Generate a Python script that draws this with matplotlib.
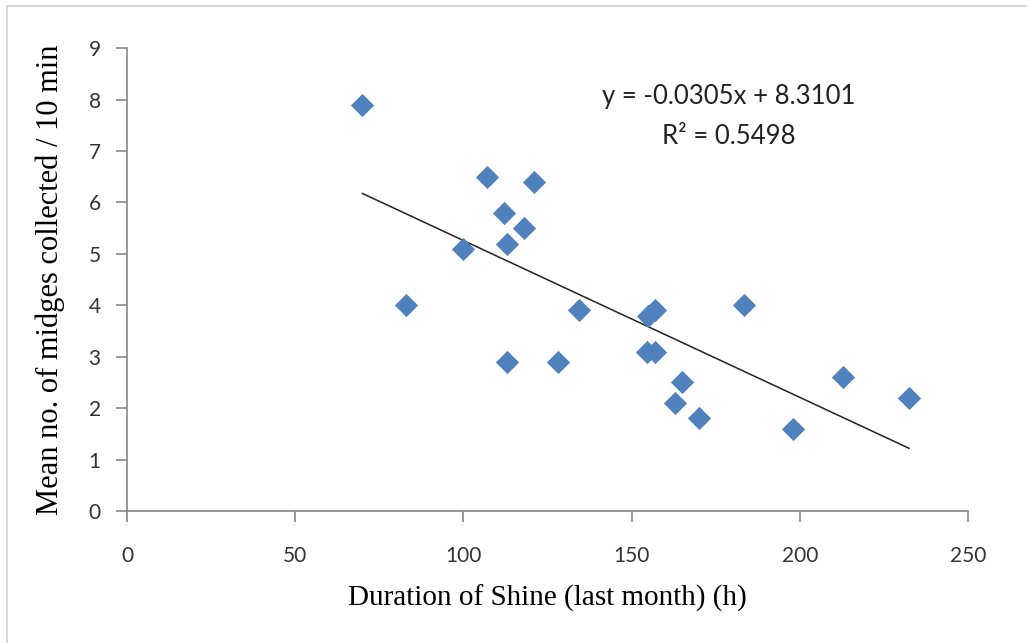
import numpy as np
import matplotlib
matplotlib.use("Agg")
import matplotlib.pyplot as plt
from matplotlib.patches import Rectangle

# duration of shine (h) and mean midges per 10 min
shine = [70, 83, 100, 107, 112, 113, 113, 118, 121, 128, 134.5,
         155, 157, 154.5, 157, 165, 163, 170, 183.5, 198, 213, 232.5]
midges = [7.9, 4.0, 5.1, 6.5, 5.8, 5.2, 2.9, 5.5, 6.4, 2.9, 3.9,
          3.8, 3.9, 3.1, 3.1, 2.5, 2.1, 1.8, 4.0, 1.6, 2.6, 2.2]

slope = -0.0305
intercept = 8.3101
r2 = 0.5498

xticks = [0, 50, 100, 150, 200, 250]
yticks = list(range(0, 10))

fig = plt.figure(figsize=(10.27, 6.43), dpi=100)
# outer chart frame
fig.patches.append(Rectangle((7 / 1027, -0.01), 1.02, 1 - 6 / 643 + 0.01,
                             transform=fig.transFigure, fill=False,
                             edgecolor="#d0d0d0", linewidth=1.2))

ax = fig.add_axes([0.1237, 0.2053, 0.9425 - 0.1237, 0.925 - 0.2053])

ax.scatter(shine, midges, marker="D", s=140, color="#4f81bd", zorder=3,
           linewidths=0)

xl = np.array([min(shine), max(shine)])
ax.plot(xl, slope * xl + intercept, color="#222222", linewidth=1.1, zorder=2)

ax.set_xlim(0, 250)
ax.set_ylim(0, 9)
ax.set_xticks(xticks)
ax.set_yticks(yticks)

for s in ["top", "right"]:
    ax.spines[s].set_visible(False)
for s in ["left", "bottom"]:
    ax.spines[s].set_color("#868686")
    ax.spines[s].set_linewidth(1.2)

ax.tick_params(axis="both", colors="#868686", length=8, width=1.2,
               labelcolor="#333333", labelsize=15)
ax.tick_params(axis="x", pad=17)
ax.tick_params(axis="y", pad=11)
for lab in ax.get_xticklabels() + ax.get_yticklabels():
    lab.set_family("Lato")

ax.set_xlabel("Duration of Shine (last month) (h)", family="Liberation Serif",
              fontsize=21, labelpad=14)
ax.set_ylabel("Mean no. of midges collected / 10 min", family="Liberation Serif",
              fontsize=22, labelpad=17)

ax.text(0.716, 0.895, "y = -0.0305x + 8.3101", transform=ax.transAxes,
        ha="center", va="center", family="Lato", fontsize=18.5, color="#222222")
ax.text(0.716, 0.809, "R\u00b2 = 0.5498", transform=ax.transAxes,
        ha="center", va="center", family="Lato", fontsize=18.5, color="#222222")

fig.savefig("out.png", dpi=100)
